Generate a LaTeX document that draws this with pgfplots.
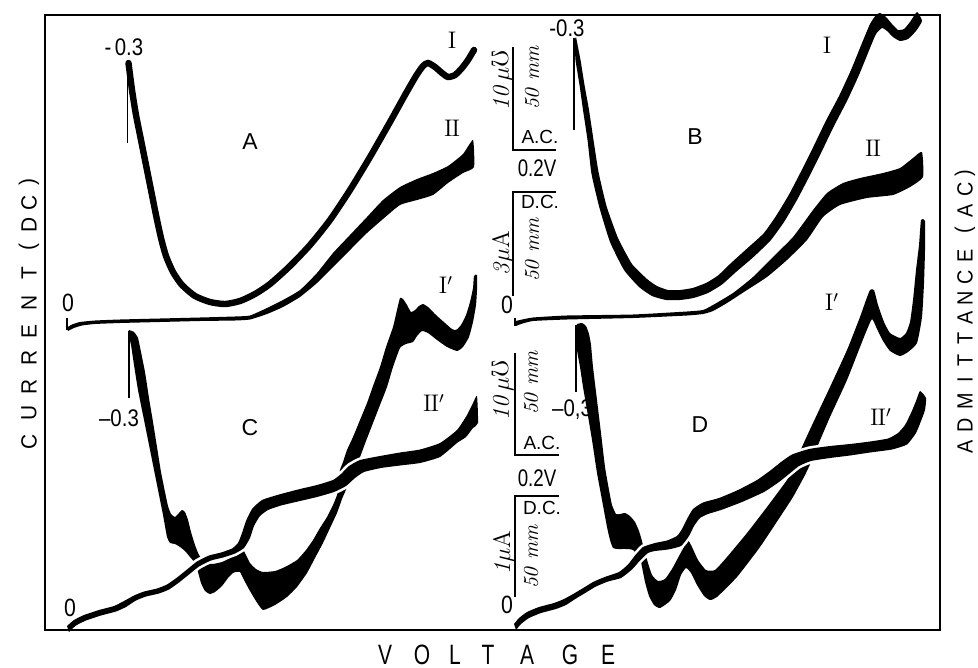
\documentclass[border=0pt]{standalone}
\usepackage{amssymb}
\usepackage{graphicx}
\usepackage{fontspec}
\usepackage{pgfplots}
\usepackage{pgfplotstable}
\pgfplotsset{compat=1.18}
\newfontfamily\lab{Liberation Sans}
% narrow letters for the lettering of the figure
\newcommand\nar[2][0.78]{\scalebox{#1}[1]{#2}}

% Curve I, panel A (drawn as a thick line)
\pgfplotstableread{
x y
128.5 63
132 90
136 115
141 140
146 165
151 190
156 215
161 238
166 256
173 272
182 285
195 296
210 302
225 304
240 301
255 294
270 284
290 266
310 245
330 220
350 190
370 157
390 122
405 95
416 76
423 66
428 63
435 67
442 73
448 77
455 75
462 68
468 60
474 50
}\tIA

% Curve II, panel A (outline of the band)
\pgfplotstableread{
x y
67 327.5
72 324.5
80 322
95 320.5
120 319.5
160 318.5
200 317.5
235 316.5
250 315.5
267 308
283 300
300 290
317 273
333 253
350 235
367 217
383 200
400 187
417 179
433 173
448 166
463 154
473 140
474 167
463 173
448 183
433 195
417 200
400 205
383 219
367 233
350 250
333 267
317 283
300 297
283 307
267 314
250 319.5
235 320.5
200 321
160 322
120 323
95 324
82 325.5
74 328
68 331
}\tIIA

% Curve I, panel B
\pgfplotstableread{
x y
576 37
580.5 60
584.5 85
589 110
593.5 140
598.5 172
606.5 206
618 238
632 264
647 279
657 286
668 290
680 290
692.5 288
706 283
718 275.5
730 264
746.5 249
763.5 233.5
776 216
789 194.5
801 171.5
813 147.5
826 120.5
839 96
851 70
862 43
870 24
876 15
880 13
886 17
892 24
898 30
904 29
910 22
917 12
922 21
916 31
908 39
900 41
893 37
887 31
882 28
876 34
870 48
859 75
847 101
834 126
821 153
809 177
797 200
784 222
770.5 240.5
753.5 257
736 272
722 284.5
708 293
693.5 298
680 300
666 300
652 296
639 287
624 270
610 242
599.5 208
591.5 174
587.5 140
583 110
579.5 85
575.5 60
574.5 40
}\tIB

% Curve II, panel B
\pgfplotstableread{
x y
516 321
520 320
533 317.5
567 315.5
633 314.5
687 311.5
703 310
713 305
733 293
753 277
773 257
793 237
813 210
827 193
843 183
860 178
883 173
900 168
913 158
922 152
923 177
910 187
893 195
867 198
840 205
823 217
807 240
787 260
767 277
747 290
727 303
713 311
703 314
687 315.5
633 318
567 319.5
533 321
521 324
516 326
}\tIIB

% Curve I', panel C
\pgfplotstableread{
x y
129 330
134 332
138 338
141 352
145 372
149 398
153 422
157 447
161 472
165 492
168 506
171 514
175 517
179 513
182 510
185 512
188 520
191 532
195 545
199 555
204 561
212 564
222 562
232 557
238 550
241 546
245 553
250 563
256 569
263 572
275 571
285 567
297 560
306 550
313 540
320 528
327 517
333 505
337 495
339 482
340 470
343 462
347 450
353 437
360 420
367 403
373 386
380 367
386 347
393 327
397 310
400 298
403 299
407 305
411 312
415 310
419 306
423 304
428 307
436 315
445 323
452 329
456 330
461 325
466 315
470 302
473 288
474 276
477 275
477 290
476 305
473 322
469 337
463 347
457 351
447 347
437 340
428 333
422 331
417 336
413 342
406 344
400 348
393 367
387 387
380 405
373 423
366 441
360 457
354 470
349 482
345 492
342 499
337 513
330 528
323 543
315 558
307 573
297 587
287 597
275 605
263 610
256 601
250 591
244 580
240 572
236 572
233 573
228 578
222 586
215 592
210 594
205 591
201 583
198 572
195 563
190 557
185 551
180 547
175 544
170 543
167 537
163 515
158 490
153 465
148 440
143 415
138 390
134 365
131 345
128 333
}\tIpC

% Curve II', panel C
\pgfplotstableread{
x y
67 626
74 620
84 615
99 610
114 606
124 601
134 595.5
144 591.5
157 588.5
167 584.5
177 577.5
187 569.5
197 561.5
209 555.5
221 552.5
232 548.5
238 543
242 533
246 521
252 509
262 500
279 494.5
300 489
317 485
333 480
341 474
349 466
360 460
380 456
400 452.5
420 449.5
440 443
457 430
467 415
473 403
477 396
478 423
473 428
466 437
457 443
440 457
420 463
400 465.5
381 468
364 472
355 478
346 486
334 492
317 497
300 501
281 505.5
268 510
260 516
254 526
250 538
244 548
235 553.5
223 557.5
211 560.5
199 566.5
189 574.5
179 582.5
169 589.5
159 593.5
146 596.5
136 600.5
126 607
116 611.5
101 615.5
86 620.5
76 625.5
69 632
}\tIIpC

% Curve I', panel D
\pgfplotstableread{
x y
577 324
582 323
586 326
589 334
591 345
593 367
597 400
601 433
605 467
609 490
612 505
616 514
620 514
625 513
630 516
635 522
639 531
642 541
644 550
646 556
648 563
652 575
658 581
665 579
672 569
679 556
685 545
688 540
692 547
698 560
706 570
715 570
727 557
747 533
767 507
787 480
795 466
802 447
813 423
830 387
847 350
860 317
866 300
870 290
874 290
878 305
884 322
890 333
900 338
906 333
910 322
913 300
916 270
919 245
921 220
925 221
925 250
924 283
922 317
917 343
908 352
900 356
890 351
883 341
877 329
872 319
866 332
860 347
847 380
830 417
818 445
812 460
805 475
793 497
780 517
760 547
737 577
717 597
710 600
704 596
697 585
691 573
686 568
681 575
676 590
670 601
660 608
654 605
649 596
645 582
642 567
640 558
633 550
626 549
618 549
613 548
610 540
607 527
602 500
597 473
592 440
587 410
583 387
580 367
577 350
576 330
}\tIpD

% Curve II', panel D
\pgfplotstableread{
x y
514 624
519 618
527 612
539 607
554 603
564 599
574 593.5
584 587.5
594 581.5
606 576.5
619 572
628 564.5
635 555.5
643 547
655 543
667 540.5
677 536
682 529
687 519
693 509
703 502.5
719 498
738 490
757 480
771 470
781 462
792 454.5
809 449
830 446
850 444
870 441.5
888 438.5
898 433
905 425
911 413
916 401
920 391
926 398
925 410
921 421
916 433
907 444.5
892 449.5
870 452.5
850 455.5
830 458
811 461
799 466
789 474
779 482
764 492
742 502
721 510
708 514
700 518
694 526
689 536
681 546
668 549.5
655 551
648 553
640 560.5
632 569.5
621 578
608 581.5
596 586.5
586 592.5
576 598.5
566 605
556 609
541 613
529 618
521 624
516 630
}\tIIpD

\tikzset{
  lbl/.style={inner sep=0pt, font=\lab\fontsize{12}{13}\selectfont},
  ac/.style={inner sep=0pt, font=\lab\fontsize{9.5}{11}\selectfont},
  pan/.style={inner sep=0pt, font=\lab\fontsize{11.5}{13}\selectfont},
  rn/.style={inner sep=0pt, font=\fontsize{12}{14}\selectfont},
  sc/.style={inner sep=0pt, font=\fontsize{12}{14}\selectfont, rotate=90},
  scm/.style={inner sep=0pt, font=\fontsize{10.5}{12}\selectfont, rotate=90},
  zero/.style={inner sep=0pt, font=\lab\fontsize{12.5}{14}\selectfont},
  vt/.style={inner sep=0pt, font=\lab\fontsize{14}{16}\selectfont},
  yt/.style={inner sep=0pt, font=\lab\fontsize{11}{13}\selectfont, rotate=90},
}

\begin{document}
\begin{tikzpicture}
\begin{axis}[
  x=0.5pt, y=0.5pt, y dir=reverse,
  xmin=45, xmax=940, ymin=15, ymax=630,
  axis line style={line width=1pt},
  xtick=\empty, ytick=\empty,
  clip=false, axis on top,
]
\coordinate (bbtl) at (axis cs:0,0);
\coordinate (bbbr) at (axis cs:978,668);

% panel A
\addplot[black, line width=3.2pt, line cap=round, smooth, tension=0.4] table {\tIA};
\addplot[black, line width=0.6pt] coordinates {(127.5,62) (127.5,143)};
\addplot[fill=black, draw=none, smooth, tension=0.3] table {\tIIA} -- cycle;
\addplot[black, line width=1pt] coordinates {(67,318) (67,330)};

% panel B
\addplot[fill=black, draw=none, smooth, tension=0.3] table {\tIB} -- cycle;
\addplot[black, line width=0.6pt] coordinates {(574,38) (574,130)};
\addplot[fill=black, draw=none, smooth, tension=0.3] table {\tIIB} -- cycle;
\addplot[black, line width=1pt] coordinates {(515,318) (515,326)};

% panel C
\addplot[fill=black, draw=none, smooth, tension=0.3] table {\tIpC} -- cycle;
\addplot[black, line width=0.6pt] coordinates {(129,331) (129,398)};
\addplot[draw=white, line width=2.6pt, smooth, tension=0.3] table {\tIIpC} -- cycle;
\addplot[fill=black, draw=none, smooth, tension=0.3] table {\tIIpC} -- cycle;

% panel D
\addplot[fill=black, draw=none, smooth, tension=0.3] table {\tIpD} -- cycle;
\addplot[black, line width=0.6pt] coordinates {(576,325) (576,392)};
\addplot[draw=white, line width=2.6pt, smooth, tension=0.3] table {\tIIpD} -- cycle;
\addplot[fill=black, draw=none, smooth, tension=0.3] table {\tIIpD} -- cycle;

% scale bars
\addplot[black, line width=0.8pt] coordinates {(513,47) (513,150) (556,150)};
\addplot[black, line width=0.8pt] coordinates {(556,192) (513,192) (513,296)};
\addplot[black, line width=0.8pt] coordinates {(515,353) (515,455) (559,455)};
\addplot[black, line width=0.8pt] coordinates {(559,496) (515,496) (515,597)};

% scale labels
\node[sc] at (axis cs:503,80) {\textit{10}$\,\mu\mho$};
\node[scm] at (axis cs:532,78) {\textit{50 mm}};
\node[ac] at (axis cs:540,137) {A.C.};
\node[lbl] at (axis cs:537,168) {\nar{0.2V}};
\node[ac] at (axis cs:540,202) {D.C.};
\node[sc] at (axis cs:503,253) {\textit{3}$\mu$A};
\node[scm] at (axis cs:532,250) {\textit{50 mm}};
\node[zero] at (axis cs:507,305) {\nar[0.85]{0}};

\node[sc] at (axis cs:503,390) {\textit{10}$\,\mu\mho$};
\node[scm] at (axis cs:531,383) {\textit{50 mm}};
\node[ac] at (axis cs:542,443) {A.C.};
\node[lbl] at (axis cs:537,478) {\nar{0.2V}};
\node[ac] at (axis cs:542,508) {D.C.};
\node[sc] at (axis cs:504,553) {\textit{1}$\mu$A};
\node[scm] at (axis cs:531,557) {\textit{50 mm}};
\node[zero] at (axis cs:507,605) {\nar[0.85]{0}};

% potential marks and zeros
\node[lbl] at (axis cs:124,47) {\nar[0.85]{-\,0.3}};
\node[lbl] at (axis cs:567,28) {\nar[0.85]{-0.3}};
\node[lbl] at (axis cs:119,418) {\nar[0.85]{\textendash0.3}};
\node[lbl] at (axis cs:572,410) {\nar[0.85]{\textendash0,3}};
\node[zero] at (axis cs:68,303) {\nar[0.85]{0}};
\node[zero] at (axis cs:70,608) {\nar[0.85]{0}};

% panel letters
\node[pan] at (axis cs:250,142) {A};
\node[pan] at (axis cs:695,137) {B};
\node[pan] at (axis cs:250,428) {C};
\node[pan] at (axis cs:700,425) {D};

% curve numerals
\node[rn] at (axis cs:452,40) {I};
\node[rn] at (axis cs:452,128) {I\kern-0.5ptI};
\node[rn] at (axis cs:827,45) {I};
\node[rn] at (axis cs:873,148) {I\kern-0.5ptI};
\node[rn] at (axis cs:446,285) {I$'$};
\node[rn] at (axis cs:832,302) {I$'$};
\node[rn] at (axis cs:434,403) {I\kern-0.5ptI$'$};
\node[rn] at (axis cs:881,417) {I\kern-0.5ptI$'$};

% axis title: VOLTAGE
\node[vt] at (axis cs:385,655) {\nar[0.75]{V}};
\node[vt] at (axis cs:422,655) {\nar[0.75]{O}};
\node[vt] at (axis cs:455,655) {\nar[0.75]{L}};
\node[vt] at (axis cs:488,655) {\nar[0.75]{T}};
\node[vt] at (axis cs:527,655) {\nar[0.75]{A}};
\node[vt] at (axis cs:570,655) {\nar[0.75]{G}};
\node[vt] at (axis cs:608,655) {\nar[0.75]{E}};
% axis title: CURRENT (DC)
\node[yt] at (axis cs:29,442) {\nar[0.95]{C}};
\node[yt] at (axis cs:29,413) {\nar[0.95]{U}};
\node[yt] at (axis cs:29,387) {\nar[0.95]{R}};
\node[yt] at (axis cs:29,358) {\nar[0.95]{R}};
\node[yt] at (axis cs:29,332) {\nar[0.95]{E}};
\node[yt] at (axis cs:29,303) {\nar[0.95]{N}};
\node[yt] at (axis cs:29,273) {\nar[0.95]{T}};
\node[yt] at (axis cs:29,247) {\nar[0.95]{(}};
\node[yt] at (axis cs:29,225) {\nar[0.95]{D}};
\node[yt] at (axis cs:29,203) {\nar[0.95]{C}};
\node[yt] at (axis cs:29,182) {\nar[0.95]{)}};
% axis title: ADMITTANCE (AC)
\node[yt] at (axis cs:965,447) {\nar[0.9]{A}};
\node[yt] at (axis cs:965,425) {\nar[0.9]{D}};
\node[yt] at (axis cs:965,401) {\nar[0.9]{M}};
\node[yt] at (axis cs:965,380) {\nar[0.9]{I}};
\node[yt] at (axis cs:965,360) {\nar[0.9]{T}};
\node[yt] at (axis cs:965,338) {\nar[0.9]{T}};
\node[yt] at (axis cs:965,318) {\nar[0.9]{A}};
\node[yt] at (axis cs:965,298) {\nar[0.9]{N}};
\node[yt] at (axis cs:965,277) {\nar[0.9]{C}};
\node[yt] at (axis cs:965,256) {\nar[0.9]{E}};
\node[yt] at (axis cs:965,230) {\nar[0.9]{(}};
\node[yt] at (axis cs:965,211) {\nar[0.9]{A}};
\node[yt] at (axis cs:965,189) {\nar[0.9]{C}};
\node[yt] at (axis cs:965,173) {\nar[0.9]{)}};
\end{axis}
\pgfresetboundingbox
\path[use as bounding box] (bbtl) rectangle (bbbr);
\end{tikzpicture}
\end{document}
